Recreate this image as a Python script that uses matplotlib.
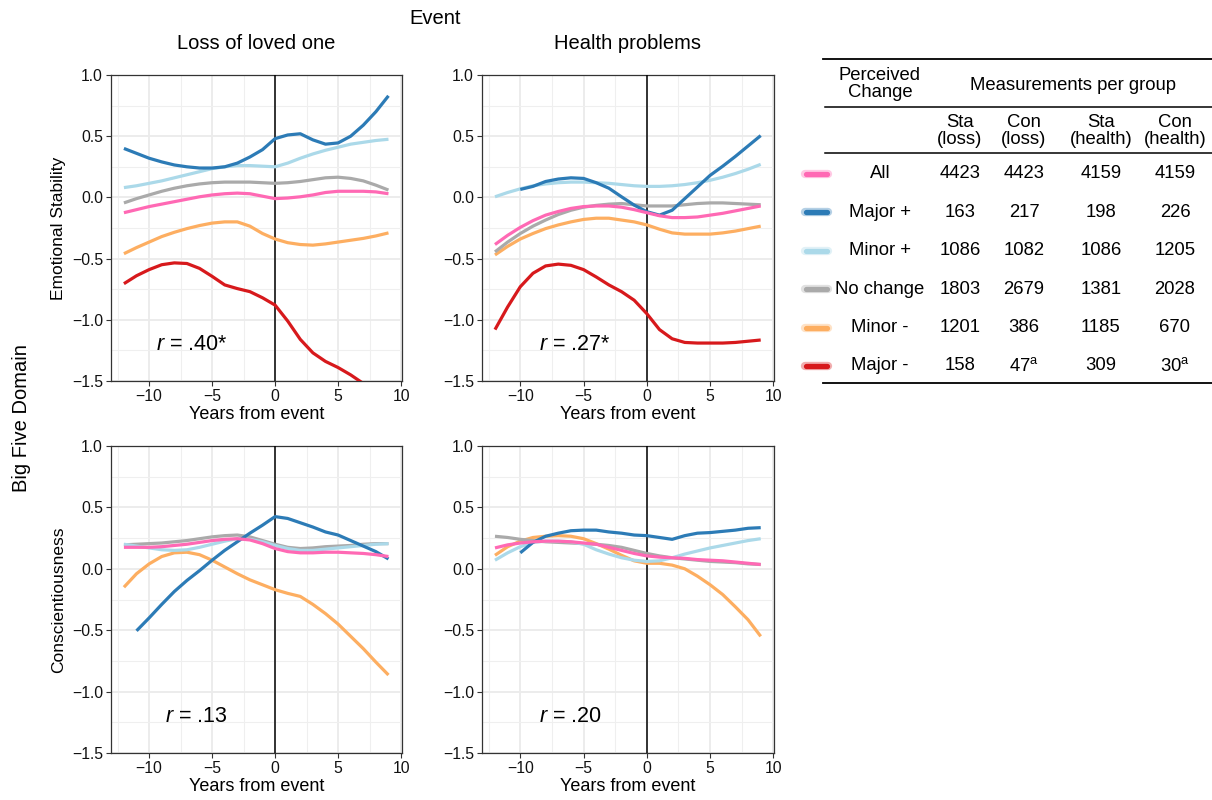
import numpy as np
import matplotlib
matplotlib.use("Agg")
import matplotlib.pyplot as plt
from matplotlib.ticker import MultipleLocator

plt.rcParams['font.family'] = ['Liberation Sans', 'DejaVu Sans']
plt.rcParams['mathtext.fontset'] = 'custom'
plt.rcParams['mathtext.rm'] = 'Liberation Sans'
plt.rcParams['mathtext.it'] = 'Liberation Sans:italic'

years = np.arange(-12, 10)
nan = np.nan

groups = ["All", "Major +", "Minor +", "No change", "Minor -", "Major -"]
colors = ["#FF69B4", "#2C7BB6", "#ABD9E9", "#AAAAAA", "#FDAE61", "#D7191C"]

# Emotional stability, loss of loved one
sta_loss = {
    "All": [-0.125, -0.10, -0.075, -0.055, -0.035, -0.015, 0.005, 0.02, 0.03, 0.035, 0.03,
            0.01, -0.01, -0.005, 0.005, 0.02, 0.04, 0.05, 0.05, 0.05, 0.045, 0.03],
    "Major +": [0.40, 0.36, 0.32, 0.29, 0.265, 0.25, 0.24, 0.24, 0.25, 0.28, 0.33,
                0.39, 0.48, 0.51, 0.52, 0.47, 0.435, 0.445, 0.50, 0.59, 0.70, 0.83],
    "Minor +": [0.08, 0.095, 0.115, 0.135, 0.16, 0.185, 0.21, 0.235, 0.25, 0.26, 0.26,
                0.255, 0.25, 0.28, 0.32, 0.355, 0.385, 0.41, 0.435, 0.45, 0.465, 0.475],
    "No change": [-0.045, -0.01, 0.02, 0.05, 0.075, 0.095, 0.11, 0.12, 0.125, 0.125, 0.125,
                  0.12, 0.115, 0.12, 0.13, 0.145, 0.16, 0.165, 0.155, 0.135, 0.10, 0.06],
    "Minor -": [-0.46, -0.41, -0.365, -0.32, -0.285, -0.255, -0.23, -0.21, -0.20, -0.20, -0.235,
                -0.295, -0.34, -0.37, -0.385, -0.39, -0.38, -0.365, -0.35, -0.335, -0.315, -0.29],
    "Major -": [-0.705, -0.64, -0.59, -0.55, -0.535, -0.54, -0.58, -0.645, -0.715, -0.745, -0.77,
                -0.82, -0.88, -1.01, -1.16, -1.27, -1.34, -1.39, -1.45, -1.52, -1.58, -1.65],
}

# Emotional stability, health problems
sta_health = {
    "All": [-0.385, -0.31, -0.245, -0.19, -0.145, -0.115, -0.09, -0.075, -0.07, -0.07, -0.08,
            -0.10, -0.125, -0.15, -0.165, -0.165, -0.16, -0.145, -0.13, -0.11, -0.09, -0.07],
    "Major +": [nan, nan, 0.065, 0.09, 0.13, 0.15, 0.16, 0.155, 0.12, 0.075, 0.005,
                -0.063, -0.117, -0.145, -0.105, -0.01, 0.085, 0.18, 0.255, 0.335, 0.42, 0.505],
    "Minor +": [0.005, 0.04, 0.07, 0.095, 0.11, 0.12, 0.125, 0.125, 0.12, 0.115, 0.105,
                0.095, 0.09, 0.09, 0.095, 0.105, 0.12, 0.14, 0.165, 0.195, 0.23, 0.27],
    "No change": [-0.445, -0.365, -0.295, -0.235, -0.185, -0.14, -0.105, -0.08, -0.065, -0.055, -0.05,
                  -0.06, -0.07, -0.07, -0.07, -0.06, -0.05, -0.045, -0.045, -0.05, -0.055, -0.06],
    "Minor -": [-0.47, -0.40, -0.34, -0.295, -0.255, -0.225, -0.20, -0.18, -0.17, -0.17, -0.185,
                -0.20, -0.225, -0.26, -0.29, -0.30, -0.30, -0.30, -0.29, -0.275, -0.255, -0.235],
    "Major -": [-1.08, -0.895, -0.73, -0.62, -0.56, -0.545, -0.555, -0.59, -0.65, -0.715, -0.77,
                -0.84, -0.95, -1.08, -1.155, -1.185, -1.19, -1.19, -1.19, -1.185, -1.175, -1.165],
}

# Conscientiousness, loss of loved one
con_loss = {
    "All": [0.175, 0.175, 0.175, 0.18, 0.19, 0.20, 0.215, 0.23, 0.24, 0.245, 0.235,
            0.205, 0.165, 0.14, 0.13, 0.13, 0.135, 0.135, 0.13, 0.125, 0.115, 0.10],
    "Major +": [nan, -0.505, -0.40, -0.29, -0.185, -0.095, -0.015, 0.07, 0.15, 0.22, 0.29,
                0.355, 0.425, 0.41, 0.375, 0.34, 0.30, 0.275, 0.23, 0.185, 0.14, 0.08],
    "Minor +": [0.20, 0.185, 0.17, 0.155, 0.15, 0.155, 0.175, 0.20, 0.225, 0.245, 0.24,
                0.22, 0.19, 0.165, 0.15, 0.15, 0.16, 0.17, 0.18, 0.19, 0.20, 0.205],
    "No change": [0.195, 0.20, 0.205, 0.21, 0.22, 0.23, 0.245, 0.26, 0.27, 0.275, 0.26,
                  0.23, 0.20, 0.175, 0.165, 0.17, 0.18, 0.185, 0.19, 0.20, 0.205, 0.205],
    "Minor -": [-0.15, -0.04, 0.04, 0.10, 0.13, 0.135, 0.115, 0.07, 0.015, -0.04, -0.09,
                -0.13, -0.17, -0.20, -0.225, -0.29, -0.365, -0.45, -0.55, -0.65, -0.76, -0.865],
}

# Conscientiousness, health problems
con_health = {
    "All": [0.17, 0.195, 0.21, 0.22, 0.225, 0.225, 0.22, 0.21, 0.20, 0.175, 0.15,
            0.125, 0.105, 0.095, 0.09, 0.085, 0.075, 0.07, 0.065, 0.055, 0.045, 0.035],
    "Major +": [nan, nan, 0.13, 0.215, 0.265, 0.29, 0.31, 0.315, 0.315, 0.30, 0.29,
                0.275, 0.27, 0.255, 0.24, 0.27, 0.29, 0.295, 0.305, 0.315, 0.33, 0.335],
    "Minor +": [0.07, 0.13, 0.18, 0.215, 0.225, 0.225, 0.22, 0.20, 0.155, 0.12, 0.09,
                0.07, 0.06, 0.065, 0.09, 0.12, 0.145, 0.17, 0.19, 0.21, 0.23, 0.245],
    "No change": [0.265, 0.255, 0.24, 0.23, 0.22, 0.215, 0.21, 0.205, 0.20, 0.19, 0.175,
                  0.15, 0.125, 0.105, 0.09, 0.08, 0.07, 0.06, 0.055, 0.05, 0.04, 0.035],
    "Minor -": [0.11, 0.18, 0.225, 0.255, 0.265, 0.27, 0.265, 0.245, 0.205, 0.16, 0.11,
                0.065, 0.045, 0.045, 0.03, 0.0, -0.06, -0.13, -0.21, -0.31, -0.415, -0.55],
}

panels = [sta_loss, sta_health, con_loss, con_health]
r_labels = ["$\\it{r}$ = .40*", "$\\it{r}$ = .27*", "$\\it{r}$ = .13", "$\\it{r}$ = .20"]
r_x = [-9.45, -8.5, -8.75, -8.5]

# table values
n_sta_loss = [4423, 163, 1086, 1803, 1201, 158]
n_con_loss = [4423, 217, 1082, 2679, 386, 47]
n_sta_health = [4159, 198, 1086, 1381, 1185, 309]
n_con_health = [4159, 226, 1205, 2028, 670, 30]
footnote_a = ["Major -"]

W, H = 1212, 800
fig = plt.figure(figsize=(W / 100, H / 100), dpi=100)

def px_axes(x0, y0, x1, y1):
    return fig.add_axes([x0 / W, 1 - y1 / H, (x1 - x0) / W, (y1 - y0) / H])

boxes = [(110.7, 75, 401.7, 381), (481.7, 75, 774, 381),
         (110.7, 446, 401.7, 753), (481.7, 446, 774, 753)]

draw_order = ["Major -", "Minor -", "No change", "Minor +", "Major +", "All"]
axes = []
for i, (data, box) in enumerate(zip(panels, boxes)):
    ax = px_axes(*box)
    axes.append(ax)
    ax.set_xlim(-13.05, 10.05)
    ax.set_ylim(-1.5, 1.0)
    ax.xaxis.set_major_locator(MultipleLocator(5))
    ax.xaxis.set_minor_locator(MultipleLocator(2.5))
    ax.yaxis.set_major_locator(MultipleLocator(0.5))
    ax.yaxis.set_minor_locator(MultipleLocator(0.25))
    ax.grid(which="major", color="#EBEBEB", lw=1.3, zorder=0)
    ax.grid(which="minor", color="#EFEFEF", lw=0.8, zorder=0)
    ax.set_axisbelow(True)
    for sp in ax.spines.values():
        sp.set_color("#333333")
        sp.set_linewidth(0.9)
    ax.tick_params(which="major", length=3.5, width=0.8, color="#333333",
                   labelsize=11.3, labelcolor="#111111", pad=2)
    ax.tick_params(which="minor", length=0)
    ax.axvline(0, color="black", lw=1.1, zorder=3)
    for g in draw_order:
        if g in data:
            ax.plot(years, data[g], color=colors[groups.index(g)], lw=2.3,
                    solid_capstyle="butt", solid_joinstyle="round", zorder=4)
    ax.text(r_x[i], -1.25, r_labels[i], fontsize=15.5, va="baseline", ha="left")
    ax.set_xlabel("Years from event", fontsize=13, labelpad=2)

axes[0].set_ylabel("Emotional Stability", fontsize=12.5, labelpad=4)
axes[2].set_ylabel("Conscientiousness", fontsize=12.5, labelpad=4)
axes[0].set_title("Loss of loved one", fontsize=14.5, pad=19)
axes[1].set_title("Health problems", fontsize=14.5, pad=19)
fig.text(435 / W, 1 - 18 / H, "Event", fontsize=14.5, ha="center", va="center")
fig.text(22 / W, 1 - 418 / H, "Big Five Domain", fontsize=14.5, rotation=90,
         ha="center", va="center")

# table drawn on an overlay axes in pixel units
tab = fig.add_axes([0, 0, 1, 1], facecolor="none")
tab.set_xlim(0, W)
tab.set_ylim(H, 0)
tab.axis("off")
tab.plot([823, 1212], [59, 59], color="black", lw=1.3)
tab.plot([825, 1212], [107, 107], color="black", lw=1.1)
tab.plot([825, 1212], [153, 153], color="black", lw=1.1)
tab.plot([823, 1212], [383, 383], color="black", lw=1.3)
fs = 13.3
tab.text(880, 84, "Perceived\nChange", fontsize=fs, ha="center", va="center",
         linespacing=1.0)
tab.text(1073, 85, "Measurements per group", fontsize=fs, ha="center", va="center")
col_x = [960, 1024, 1101, 1175]
col_head = ["Sta\n(loss)", "Con\n(loss)", "Sta\n(health)", "Con\n(health)"]
for cx, h in zip(col_x, col_head):
    tab.text(cx, 131, h, fontsize=fs, ha="center", va="center", linespacing=1.05)
row_y = [174, 212.3, 250.7, 289.3, 327.7, 366]
cols = [n_sta_loss, n_con_loss, n_sta_health, n_con_health]
for j, g in enumerate(groups):
    y = row_y[j]
    tab.plot([805, 828], [y, y], color=colors[j], lw=6, alpha=0.35,
             solid_capstyle="round")
    tab.plot([806, 827], [y, y], color=colors[j], lw=3.8, solid_capstyle="round")
    tab.text(880, y, g, fontsize=fs, ha="center", va="center")
    for k, (cx, col) in enumerate(zip(col_x, cols)):
        s = str(col[j])
        if g in footnote_a and k in (1, 3):
            s += "$^{\\mathregular{a}}$"
        tab.text(cx, y, s, fontsize=fs, ha="center", va="center")

fig.savefig("out.png", dpi=100)
